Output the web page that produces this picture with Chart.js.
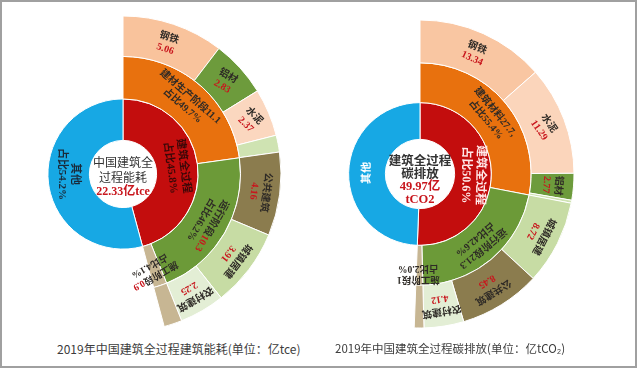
<!DOCTYPE html>
<html>
<head>
<meta charset="utf-8">
<script src="https://cdn.jsdelivr.net/npm/chart.js@4.4.0/dist/chart.umd.min.js"></script>
<style>
html, body { margin: 0; padding: 0; background: #fff; overflow: hidden; width: 640px; height: 369px; }
#frame { position: absolute; left: 0; top: 0; width: 633px; height: 364px; border: 2px solid #a0a0a0; }
canvas { position: absolute; }
.cap { position: absolute; top: 340px; font-family: "Noto Sans CJK SC", sans-serif; color: #3c3c3c; white-space: nowrap; }
</style>
</head>
<body>
<div id="frame"></div>
<canvas id="energyChart" width="330" height="330" style="left:-42px;top:9px"></canvas>
<canvas id="carbonChart" width="330" height="330" style="left:255px;top:9px"></canvas>
<div class="cap" style="left:57px;font-size:12px">2019年中国建筑全过程建筑能耗(单位：亿tce)</div>
<div class="cap" style="left:335px;font-size:11.5px">2019年中国建筑全过程碳排放(单位：亿tCO₂)</div>
<script>
// 能耗 (亿tce)
const energyTotal = 22.33;
const energyShares = [45.8, 54.2];            // 建筑全过程, 其他
const energyStages = ['建材生产阶段', '运行阶段', '施工阶段'];
const energyStageValues = [11.1, 10.3, 0.9];
const energyStageShares = [49.7, 46.2, 4.1];
const energyItems = ['钢铁', '铝材', '水泥', '其他建材', '公共建筑', '城镇居建', '农村建筑', '施工'];
const energyItemValues = [5.06, 2.83, 2.37, 0.84, 4.16, 3.91, 2.25, 0.9];

// 碳排放 (亿tCO2)
const carbonTotal = 49.97;
const carbonShares = [50.6, 49.4];
const carbonStages = ['建筑材料', '运行阶段', '施工阶段'];
const carbonStageValues = [27.7, 21.3, 1];
const carbonStageShares = [55.4, 42.6, 2.0];
const carbonItems = ['钢铁', '水泥', '铝材', '其他建材', '城镇居建', '公共建筑', '农村建筑', '施工'];
const carbonItemValues = [13.34, 11.29, 2.77, 0.3, 8.72, 8.45, 4.12, 1];

const DARK = '#2e2a26';
const RED = '#c8161d';
const LABEL_FONT = '"Liberation Serif", "Noto Sans CJK SC", serif';
const innerColors = ['#c30d0d', '#17a8e4'];
const energyStageColors = ['#e8710e', '#6c9a38', '#c7b693'];
const energyItemColors = ['#f9c39c', '#6d9b3c', '#fbd7bf', '#cfe3b2', '#8b7c4e', '#c7dca4', '#e3eed5', '#c7b693'];
const carbonStageColors = ['#e8710e', '#6c9a38', '#c7b693'];
const carbonItemColors = ['#f9c6a2', '#fbd5bb', '#6d9b3c', '#cfe3b2', '#c7dca4', '#8b7c4e', '#e3eed5', '#c7b693'];

// ring that covers only the 建筑 part; the rest is left empty
function partRing(values, colors, shares, weight) {
    const sum = values.reduce((a, b) => a + b, 0);
    return {
        data: values.concat(sum * shares[1] / shares[0]),
        backgroundColor: colors.concat('rgba(0,0,0,0)'),
        borderColor: '#fff',
        borderWidth: values.map(() => 1).concat(0),
        weight: weight
    };
}

const ringLabels = {
    id: 'ringLabels',
    afterDatasetsDraw(chart, args, opts) {
        const ctx = chart.ctx;
        ctx.save();
        ctx.textBaseline = 'middle';
        (opts.labels || []).forEach(l => {
            const arc = chart.getDatasetMeta(l.ring).data[l.index];
            const p = arc.getProps(['x', 'y', 'startAngle', 'endAngle', 'innerRadius', 'outerRadius'], true);
            const mid = l.angle !== undefined ? l.angle * Math.PI / 180 - Math.PI / 2 : (p.startAngle + p.endAngle) / 2;
            const r = l.r !== undefined ? l.r : (p.innerRadius + p.outerRadius) / 2 + (l.dr || 0);
            const rot = l.rot !== undefined ? l.rot * Math.PI / 180 : mid + Math.PI / 2;
            ctx.save();
            ctx.translate(p.x + r * Math.cos(mid), p.y + r * Math.sin(mid));
            ctx.rotate(rot);
            ctx.font = 'bold ' + l.size + 'px ' + LABEL_FONT;
            const lh = l.size * 1.2;
            l.lines.forEach((line, i) => {
                const widths = line.map(part => ctx.measureText(part[0]).width);
                let x = -widths.reduce((a, b) => a + b, 0) / 2;
                const y = (i - (l.lines.length - 1) / 2) * lh;
                line.forEach((part, j) => {
                    ctx.fillStyle = part[1];
                    ctx.fillText(part[0], x, y);
                    x += widths[j];
                });
            });
            ctx.restore();
        });
        const c = opts.center;
        if (c) {
            const p = chart.getDatasetMeta(0).data[0];
            ctx.textAlign = 'center';
            c.lines.forEach((line, i) => {
                ctx.font = line[2];
                ctx.fillStyle = line[1];
                ctx.fillText(line[0], p.x, p.y + c.dy + (i - (c.lines.length - 1) / 2) * c.lh);
            });
        }
        ctx.restore();
    }
};

function itemLabel(names, values, i, size, rot) {
    return { ring: 0, index: i, size: size, rot: rot, lines: [[[names[i], DARK]], [[String(values[i]), RED]]] };
}

function makeChart(id, shares, stageValues, stageColors, itemValues, itemColors, weights, radius, cutout, labels, center) {
    return new Chart(document.getElementById(id), {
        type: 'doughnut',
        data: {
            datasets: [
                partRing(itemValues, itemColors, shares, weights[0]),
                partRing(stageValues, stageColors, shares, weights[1]),
                {
                    data: shares,
                    backgroundColor: innerColors,
                    borderColor: '#fff',
                    borderWidth: 1,
                    weight: weights[2]
                }
            ]
        },
        options: {
            responsive: false,
            animation: false,
            events: [],
            radius: radius,
            cutout: cutout,
            plugins: {
                legend: { display: false },
                tooltip: { enabled: false },
                ringLabels: { labels: labels, center: center }
            }
        },
        plugins: [ringLabels]
    });
}

const energyLabels = [
    itemLabel(energyItems, energyItemValues, 0, 10),
    itemLabel(energyItems, energyItemValues, 1, 10, 30),
    itemLabel(energyItems, energyItemValues, 2, 10, 45),
    itemLabel(energyItems, energyItemValues, 4, 10),
    itemLabel(energyItems, energyItemValues, 5, 10),
    itemLabel(energyItems, energyItemValues, 6, 10),
    { ring: 1, index: 0, size: 10, lines: [[[energyStages[0] + energyStageValues[0], DARK]], [['占比' + energyStageShares[0] + '%', DARK]]] },
    { ring: 1, index: 1, size: 10, lines: [[[energyStages[1], DARK], [String(energyStageValues[1]), RED]], [['占比' + energyStageShares[1] + '%', DARK]]] },
    { ring: 1, index: 2, size: 9.5, angle: 163, r: 101, rot: 150, lines: [[[energyStages[2], DARK], [String(energyStageValues[2]), RED]], [['占比' + energyStageShares[2] + '%', DARK]]] },
    { ring: 2, index: 0, size: 11, lines: [[['建筑全过程', '#3a0808']], [['占比' + energyShares[0] + '%', '#3a0808']]] },
    { ring: 2, index: 1, size: 11, angle: 270, rot: 90, lines: [[['其他', '#1a2a3a']], [['占比' + energyShares[1] + '%', '#1a2a3a']]] }
];

const carbonLabels = [
    itemLabel(carbonItems, carbonItemValues, 0, 10),
    itemLabel(carbonItems, carbonItemValues, 1, 10, 55),
    itemLabel(carbonItems, carbonItemValues, 2, 10),
    itemLabel(carbonItems, carbonItemValues, 4, 10),
    itemLabel(carbonItems, carbonItemValues, 5, 10),
    itemLabel(carbonItems, carbonItemValues, 6, 10),
    { ring: 1, index: 0, size: 10, lines: [[[carbonStages[0] + carbonStageValues[0] + ',', DARK]], [['占比' + carbonStageShares[0] + '%', DARK]]] },
    { ring: 1, index: 1, size: 10, lines: [[[carbonStages[1] + carbonStageValues[1], DARK]], [['占比' + carbonStageShares[1] + '%', DARK]]] },
    { ring: 1, index: 2, size: 9.5, angle: 181, r: 100, rot: 180, lines: [[[carbonStages[2] + carbonStageValues[2], DARK]], [['占比' + carbonStageShares[2].toFixed(1) + '%', DARK]]] },
    { ring: 2, index: 0, size: 12, lines: [[['建筑全过程', '#ffe9e9']], [['占比' + carbonShares[0] + '%', '#ffe9e9']]] },
    { ring: 2, index: 1, size: 11, lines: [[['其他', '#ffffff']]] }
];

makeChart('energyChart', energyShares, energyStageValues, energyStageColors, energyItemValues, energyItemColors,
    [40, 42, 41], 158, 35, energyLabels,
    { dy: 3, lh: 14.5, lines: [
        ['中国建筑全', '#333', '12px "Noto Sans CJK SC"'],
        ['过程能耗', '#333', '12px "Noto Sans CJK SC"'],
        [energyTotal + '亿tce', RED, 'bold 12px ' + LABEL_FONT]
    ] });

makeChart('carbonChart', carbonShares, carbonStageValues, carbonStageColors, carbonItemValues, carbonItemColors,
    [42, 39, 36], 154, 37, carbonLabels,
    { dy: 6, lh: 13.5, lines: [
        ['建筑全过程', '#333', 'bold 12.5px "Noto Sans CJK SC"'],
        ['碳排放', '#333', 'bold 12.5px "Noto Sans CJK SC"'],
        [carbonTotal + '亿', RED, 'bold 12.5px ' + LABEL_FONT],
        ['tCO2', RED, 'bold 12.5px ' + LABEL_FONT]
    ] });
</script>
</body>
</html>
